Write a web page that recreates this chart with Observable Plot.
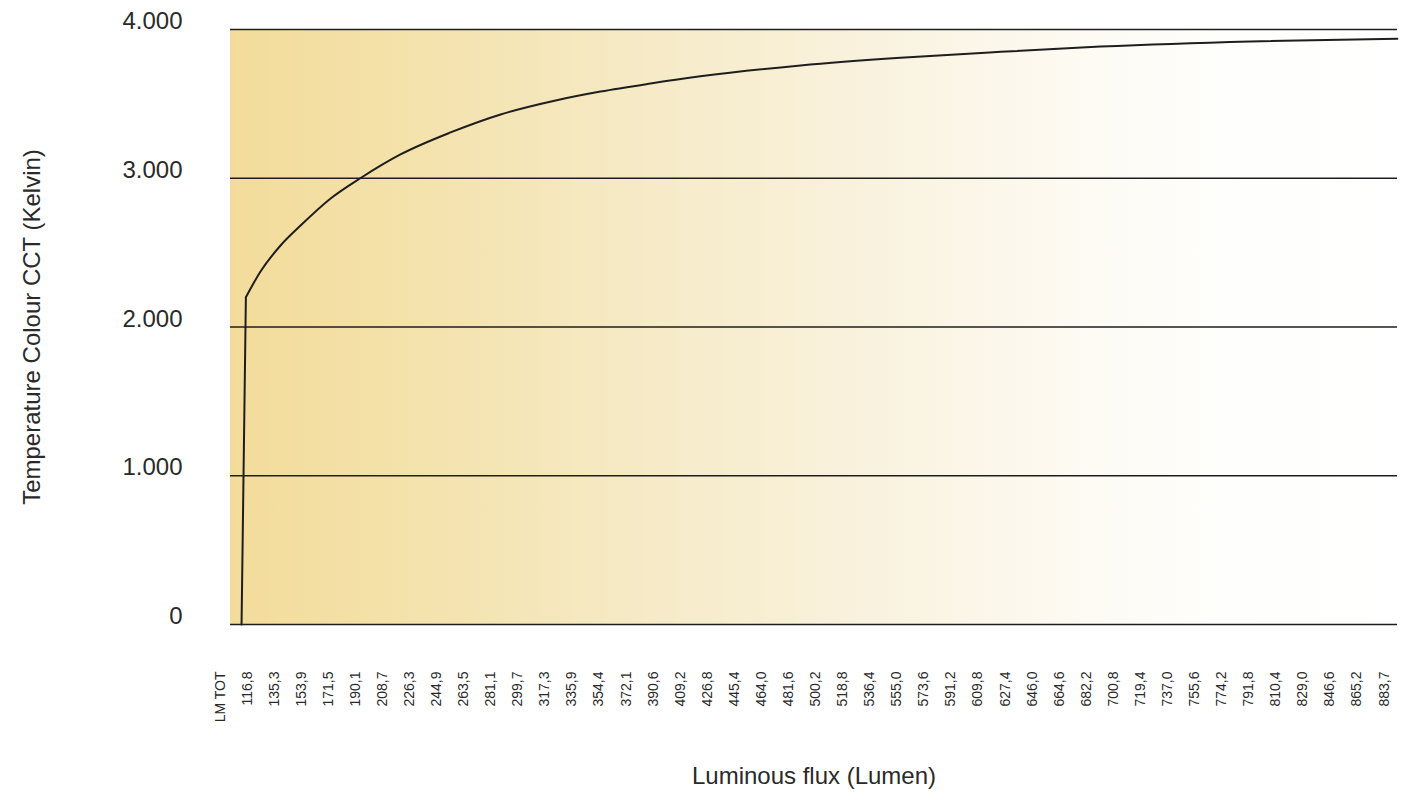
<!DOCTYPE html>
<html>
<head>
<meta charset="utf-8">
<script src="https://cdn.jsdelivr.net/npm/d3@7"></script>
<script src="https://cdn.jsdelivr.net/npm/@observablehq/plot@0.6"></script>
<style>
html, body { margin: 0; padding: 0; background: #fff; overflow: hidden; }
svg { display: block; }
</style>
</head>
<body>
<div id="chart"></div>
<script>
// Category labels on the x axis (Lumen)
const xLabels = ["LM TOT", "116,8", "135,3", "153,9", "171,5", "190,1", "208,7", "226,3", "244,9", "263,5",
  "281,1", "299,7", "317,3", "335,9", "354,4", "372,1", "390,6", "409,2", "426,8", "445,4",
  "464,0", "481,6", "500,2", "518,8", "536,4", "555,0", "573,6", "591,2", "609,8", "627,4",
  "646,0", "664,6", "682,2", "700,8", "719,4", "737,0", "755,6", "774,2", "791,8", "810,4",
  "829,0", "846,6", "865,2", "883,7"];

// y tick values (Kelvin)
const yTicks = [0, 1000, 2000, 3000, 4000];

// Steep initial rise (x = position along the label axis, y = Kelvin)
const riseX = [0.63, 0.79];
const riseY = [0, 2200];

// Saturating curve after the kink
const curveX = [0.79, 1.33, 2.07, 2.81, 3.92, 5.06, 6.50, 8.35, 10.20, 12.23, 13.89, 15.74, 17.58, 21.28, 24.97, 28.67, 32.36, 37.90, 43.33];
const curveY = [2200, 2373, 2548, 2682, 2864, 3005, 3160, 3308, 3429, 3523, 3583, 3637, 3685, 3758, 3810, 3850, 3885, 3920, 3938];

const yTitle = "Temperature Colour CCT (Kelvin)";
const xTitle = "Luminous flux (Lumen)";

const rise = riseX.map((x, i) => ({x, y: riseY[i]}));
const curve = curveX.map((x, i) => ({x, y: curveY[i]}));

const locale = d3.formatLocale({decimal: ",", thousands: ".", grouping: [3], currency: ["", ""]});
const fmt = locale.format(",");

// background gradient over the plot frame
function gradientMark(index, scales, values, dimensions) {
  const {width, height, marginLeft, marginRight, marginTop, marginBottom} = dimensions;
  const g = d3.create("svg:g");
  const defs = g.append("defs");
  const lg = defs.append("linearGradient").attr("id", "bgGrad")
    .attr("x1", "0%").attr("x2", "100%").attr("y1", "0%").attr("y2", "0%");
  [[0, "#f3dc9b"], [0.15, "#f4e2ab"], [0.35, "#f6eac6"], [0.55, "#f9f2de"], [0.72, "#fdfaf2"], [0.85, "#fefefc"], [1, "#ffffff"]]
    .forEach(([o, c]) => lg.append("stop").attr("offset", o).attr("stop-color", c));
  g.append("rect")
    .attr("x", marginLeft).attr("y", marginTop)
    .attr("width", width - marginLeft - marginRight)
    .attr("height", height - marginTop - marginBottom)
    .attr("fill", "url(#bgGrad)");
  return g.node();
}

const chart = Plot.plot({
  width: 1402,
  height: 799,
  marginLeft: 230,
  marginRight: 5,
  marginTop: 29,
  marginBottom: 175,
  style: {fontFamily: "'Liberation Sans', Arial, Helvetica, sans-serif", color: "#2a2a2a", background: "#fff"},
  x: {domain: [0, xLabels.length - 1], range: [224, 1388], axis: null},
  y: {domain: [0, 4000], axis: null},
  marks: [
    gradientMark,
    Plot.ruleY(yTicks, {stroke: "#1e1e1e", strokeWidth: 1.6}),
    Plot.line(rise, {x: "x", y: "y", stroke: "#1e1e1e", strokeWidth: 2}),
    Plot.line(curve, {x: "x", y: "y", curve: "monotone-x", stroke: "#1e1e1e", strokeWidth: 2}),
    Plot.text(yTicks, {y: d => d, text: d => fmt(d), frameAnchor: "left", textAnchor: "end", dx: -48, dy: -8, fontSize: 24, fill: "#2a2a2a"}),
    Plot.text(xLabels, {x: (d, i) => i, text: d => d, frameAnchor: "bottom", rotate: -90, textAnchor: "end", dy: 47, fontSize: 14, fill: "#2a2a2a"}),
    Plot.text([yTitle], {text: d => d, frameAnchor: "left", textAnchor: "middle", rotate: -90, dx: -198, fontSize: 24, fill: "#2a2a2a"}),
    Plot.text([xTitle], {text: d => d, frameAnchor: "bottom", textAnchor: "middle", dy: 159, fontSize: 24, fill: "#2a2a2a"})
  ]
});

document.getElementById("chart").appendChild(chart);
</script>
</body>
</html>
